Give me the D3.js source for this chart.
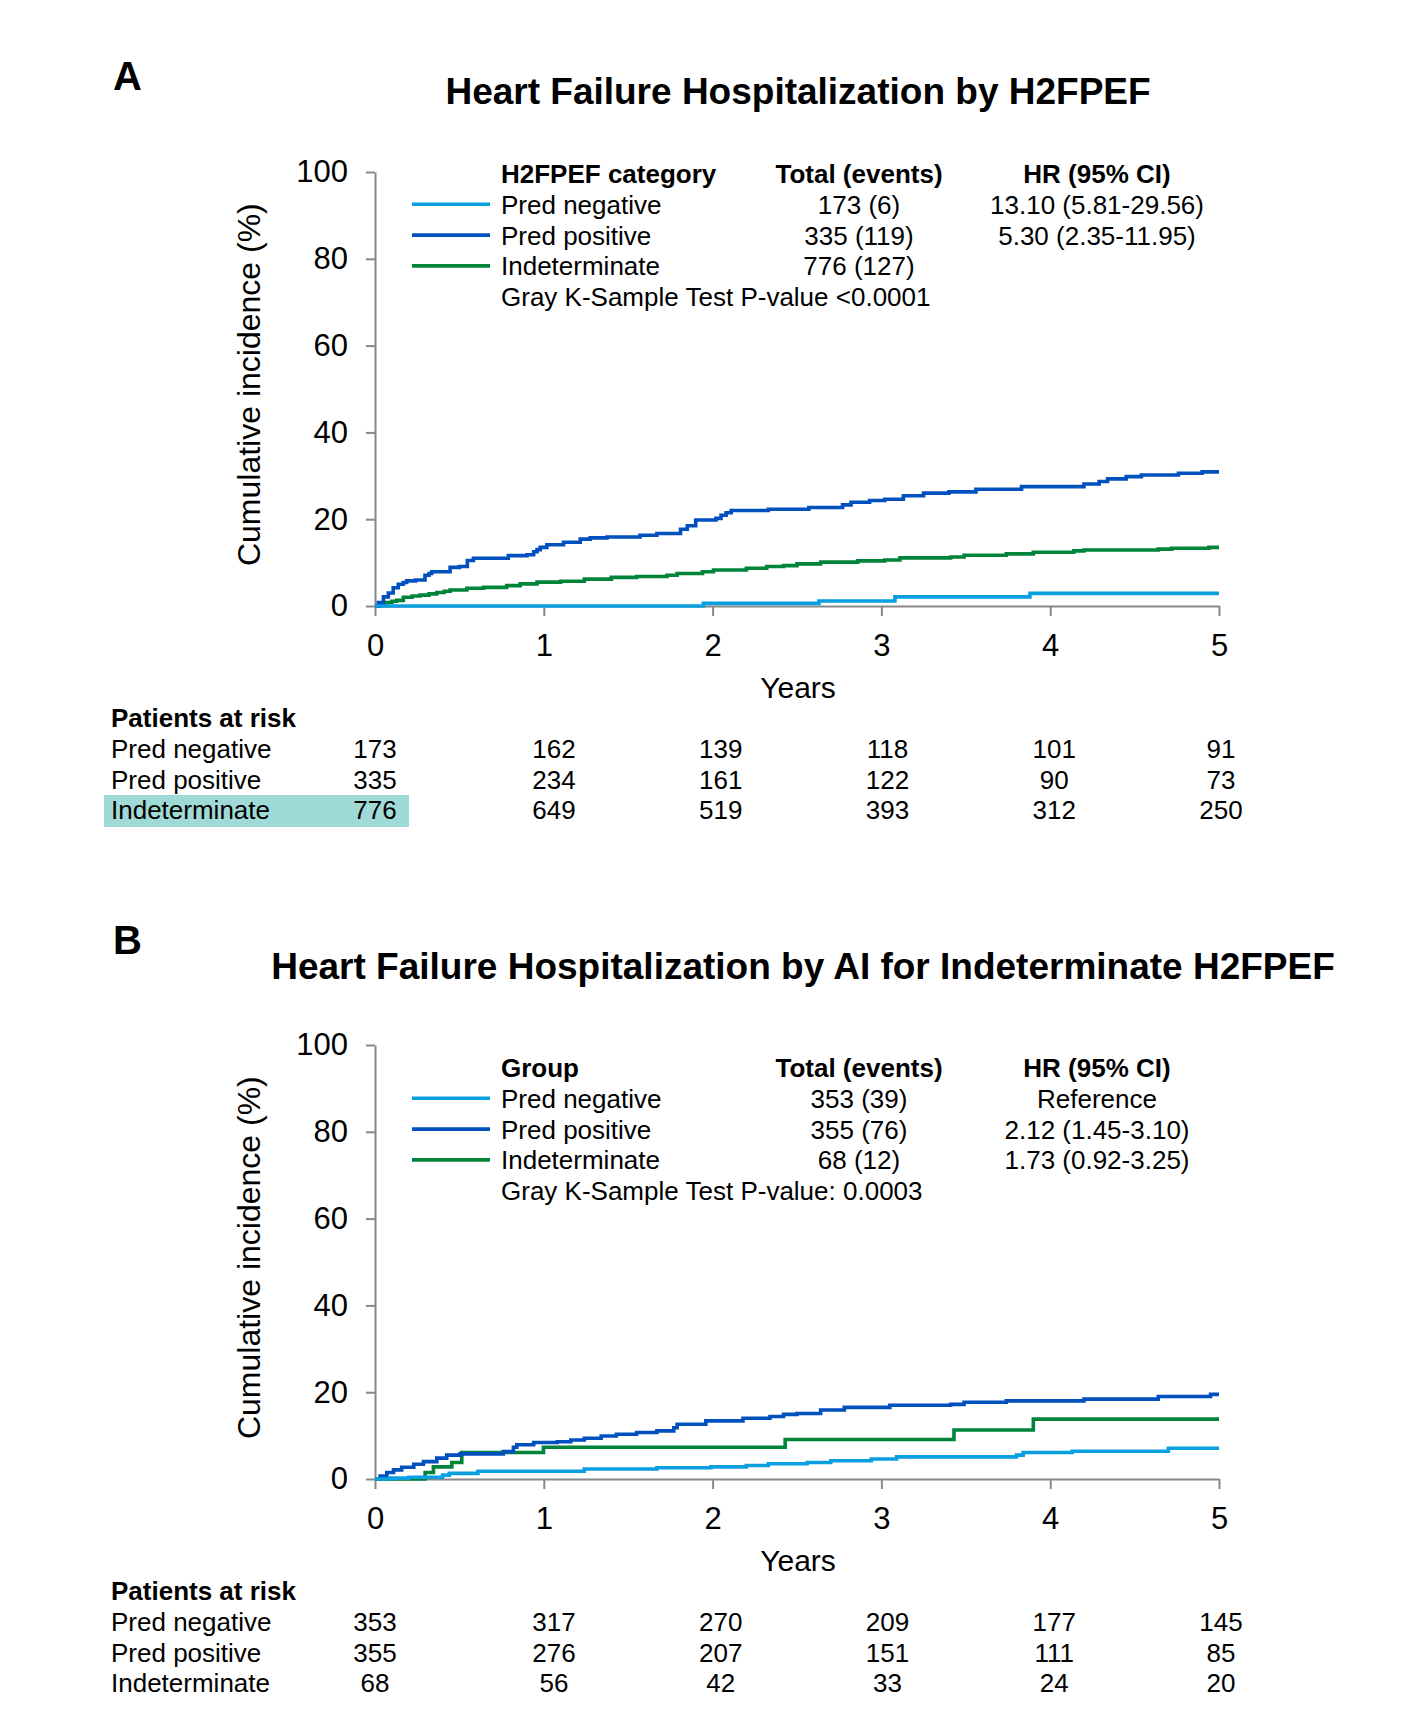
<!DOCTYPE html>
<html>
<head>
<meta charset="utf-8">
<script src="https://cdn.jsdelivr.net/npm/d3@7"></script>
<style>
  body { margin: 0; background: #fff; }
  svg { font-family: "Liberation Sans", Arial, sans-serif; }
</style>
</head>
<body>
<svg id="chart" width="1415" height="1730"></svg>
<script>
// shared
var years = [0, 1, 2, 3, 4, 5];
var yTicks = [0, 20, 40, 60, 80, 100];
var groups = ["Pred negative", "Pred positive", "Indeterminate"];
var groupColors = ["#0a9fe0", "#0050be", "#00843a"];

// panel A
var aTitle = "Heart Failure Hospitalization by H2FPEF";
var aHeader = ["H2FPEF category", "Total (events)", "HR (95% CI)"];
var aTotals = ["173 (6)", "335 (119)", "776 (127)"];
var aHR = ["13.10 (5.81-29.56)", "5.30 (2.35-11.95)", ""];
var aPvalue = "Gray K-Sample Test P-value <0.0001";
var aRisk = [[173, 162, 139, 118, 101, 91], [335, 234, 161, 122, 90, 73], [776, 649, 519, 393, 312, 250]];
var aNeg = [[0,0],[1.945,0.6],[2.63,1.15],[3.08,2.1],[3.88,2.9],[5,2.9]];
var aPos = [[0,0],[0.02,0.8],[0.05,2.1],[0.079,3.0],[0.108,4.2],[0.138,5.0],[0.168,5.4],[0.188,5.8],[0.24,6.0],
  [0.296,7.1],[0.32,7.5],[0.336,7.9],[0.445,8.9],[0.50,9.1],[0.547,10.5],[0.583,11.0],[0.79,11.6],[0.90,11.8],
  [0.94,12.5],[0.96,13.0],[0.979,13.5],[1.018,14.1],[1.117,14.7],[1.216,15.4],[1.275,15.7],[1.374,15.9],[1.57,16.3],
  [1.67,16.7],[1.81,17.7],[1.85,18.5],[1.90,19.8],[2.02,20.2],[2.05,20.9],[2.08,21.5],[2.11,22.0],[2.33,22.3],
  [2.57,22.7],[2.77,23.3],[2.82,23.9],[2.93,24.3],[3.02,24.6],[3.13,25.4],[3.25,26.0],[3.40,26.3],[3.56,26.9],
  [3.83,27.5],[4.20,28.1],[4.29,28.7],[4.34,29.3],[4.45,29.8],[4.54,30.2],[4.76,30.6],[4.90,30.9],[5,30.9]];
var aInd = [[0,0],[0.03,0.4],[0.06,0.8],[0.10,1.1],[0.128,1.3],[0.168,2.0],[0.22,2.3],[0.267,2.5],[0.32,2.8],
  [0.366,3.1],[0.41,3.4],[0.445,3.7],[0.544,4.1],[0.643,4.3],[0.78,4.7],[0.86,5.1],[0.96,5.5],[1.10,5.7],[1.24,6.2],
  [1.40,6.6],[1.55,6.8],[1.73,7.1],[1.79,7.5],[1.94,7.9],[2.005,8.3],[2.20,8.7],[2.32,9.1],[2.42,9.3],[2.50,9.7],
  [2.64,10.1],[2.86,10.4],[3.02,10.6],[3.11,11.1],[3.41,11.3],[3.49,11.7],[3.74,12.0],[3.90,12.4],[4.14,12.7],
  [4.20,12.9],[4.64,13.1],[4.72,13.3],[4.94,13.5],[5,13.5]];

// panel B
var bTitle = "Heart Failure Hospitalization by AI for Indeterminate H2FPEF";
var bHeader = ["Group", "Total (events)", "HR (95% CI)"];
var bTotals = ["353 (39)", "355 (76)", "68 (12)"];
var bHR = ["Reference", "2.12 (1.45-3.10)", "1.73 (0.92-3.25)"];
var bPvalue = "Gray K-Sample Test P-value: 0.0003";
var bRisk = [[353, 317, 270, 209, 177, 145], [355, 276, 207, 151, 111, 85], [68, 56, 42, 33, 24, 20]];
var bNeg = [[0,0],[0.09,0.2],[0.2,0.4],[0.4,0.9],[0.44,1.3],[0.61,1.8],[1.24,2.3],[1.67,2.6],[1.99,2.8],[2.20,3.1],
  [2.33,3.5],[2.56,3.8],[2.70,4.2],[2.94,4.6],[3.09,5.1],[3.80,5.5],[3.84,6.1],[4.13,6.4],[4.70,7.1],[5,7.1]];
var bPos = [[0,0],[0.03,0.7],[0.07,1.5],[0.11,2.1],[0.158,2.7],[0.23,3.4],[0.287,4.0],[0.366,4.8],[0.425,5.5],
  [0.504,5.8],[0.76,6.3],[0.82,7.3],[0.84,7.9],[0.94,8.4],[1.08,8.6],[1.16,9.0],[1.24,9.4],[1.34,9.9],[1.43,10.3],
  [1.55,10.7],[1.67,11.1],[1.77,11.8],[1.79,12.6],[1.96,13.4],[2.18,14.0],[2.34,14.4],[2.42,14.9],[2.50,15.1],
  [2.64,15.9],[2.78,16.5],[3.05,17.0],[3.41,17.2],[3.49,17.7],[3.74,18.0],[4.20,18.4],[4.64,19.0],[4.95,19.5],[5,19.5]];
var bInd = [[0,0],[0.297,1.5],[0.346,2.8],[0.455,3.8],[0.514,6.1],[0.998,7.3],[2.43,9.1],[3.43,11.3],[3.90,13.8],[5,13.8]];

var svg = d3.select("#chart");
var x = d3.scaleLinear().domain([0, 5]).range([375, 1219]);
// at-risk table columns sit a little right of the ticks
var col = d3.scaleLinear().domain([1, 5]).range([554, 1221]);
var colX = function(i) { return i === 0 ? x(0) : col(i); };

function drawPanel(p) {
  var y = d3.scaleLinear().domain([0, 100]).range([p.y0, p.y0 - 434]);
  var g = svg.append("g");

  g.append("text").attr("x", 113).attr("y", p.letterY)
    .attr("font-size", 40).attr("font-weight", "bold").text(p.letter);
  g.append("text").attr("x", p.titleX).attr("y", p.titleY).attr("text-anchor", "middle")
    .attr("font-size", 37).attr("font-weight", "bold").text(p.title);

  var yAxis = g.append("g").attr("transform", "translate(" + x(0) + ",0)")
    .call(d3.axisLeft(y).tickValues(yTicks).tickSize(9).tickPadding(18).tickSizeOuter(0));
  var xAxis = g.append("g").attr("transform", "translate(0," + p.y0 + ")")
    .call(d3.axisBottom(x).tickValues(years).tickFormat(d3.format("d")).tickSize(10).tickPadding(18).tickSizeOuter(0));
  [yAxis, xAxis].forEach(function(a) {
    a.selectAll("path, line").attr("stroke", "#888").attr("stroke-width", 2);
    a.selectAll("text").attr("font-size", 31).attr("fill", "#000");
    a.attr("font-family", null);
  });

  g.append("text").attr("x", 798).attr("y", p.y0 + 92).attr("text-anchor", "middle")
    .attr("font-size", 30).text("Years");
  g.append("text").attr("transform", "translate(260," + y(51) + ") rotate(-90)")
    .attr("text-anchor", "middle").attr("font-size", 32).text("Cumulative incidence (%)");

  var line = d3.line().x(function(d) { return x(d[0]); }).y(function(d) { return y(d[1]); })
    .curve(d3.curveStepAfter);
  // green first, then dark blue, light blue on top
  [2, 1, 0].forEach(function(i) {
    g.append("path").datum(p.curves[i]).attr("d", line).attr("fill", "none")
      .attr("stroke", groupColors[i]).attr("stroke-width", 3.6);
  });

  // legend table
  var lg = g.append("g").attr("font-size", 26);
  var rowY = function(i) { return p.legendY + 30.8 * i; };
  lg.append("text").attr("x", 501).attr("y", rowY(0)).attr("font-weight", "bold").text(p.header[0]);
  lg.append("text").attr("x", 859).attr("y", rowY(0)).attr("text-anchor", "middle").attr("font-weight", "bold").text(p.header[1]);
  lg.append("text").attr("x", 1097).attr("y", rowY(0)).attr("text-anchor", "middle").attr("font-weight", "bold").text(p.header[2]);
  groups.forEach(function(name, i) {
    var yy = rowY(i + 1);
    lg.append("line").attr("x1", 412).attr("x2", 490).attr("y1", yy - 9.5).attr("y2", yy - 9.5)
      .attr("stroke", groupColors[i]).attr("stroke-width", 3.6);
    lg.append("text").attr("x", 501).attr("y", yy).text(name);
    lg.append("text").attr("x", 859).attr("y", yy).attr("text-anchor", "middle").text(p.totals[i]);
    lg.append("text").attr("x", 1097).attr("y", yy).attr("text-anchor", "middle").text(p.hr[i]);
  });
  lg.append("text").attr("x", 501).attr("y", rowY(4)).text(p.pvalue);

  // patients at risk
  var tg = g.append("g").attr("font-size", 26);
  if (p.highlight) {
    tg.append("rect").attr("x", 104).attr("y", p.y0 + 189).attr("width", 305).attr("height", 32)
      .attr("fill", "#9fdad7");
  }
  tg.append("text").attr("x", 111).attr("y", p.y0 + 121).attr("font-weight", "bold").text("Patients at risk");
  groups.forEach(function(name, i) {
    var yy = p.y0 + 152 + 30.5 * i;
    tg.append("text").attr("x", 111).attr("y", yy).text(name);
    tg.selectAll(null).data(p.risk[i]).enter().append("text")
      .attr("x", function(d, j) { return colX(j); }).attr("y", yy)
      .attr("text-anchor", "middle").text(function(d) { return d; });
  });
}

drawPanel({ letter: "A", letterY: 90, title: aTitle, titleX: 798, titleY: 104, y0: 606, legendY: 183,
  header: aHeader, totals: aTotals, hr: aHR, pvalue: aPvalue, risk: aRisk, curves: [aNeg, aPos, aInd], highlight: true });
drawPanel({ letter: "B", letterY: 954, title: bTitle, titleX: 803, titleY: 979, y0: 1479, legendY: 1077,
  header: bHeader, totals: bTotals, hr: bHR, pvalue: bPvalue, risk: bRisk, curves: [bNeg, bPos, bInd], highlight: false });
</script>
</body>
</html>
